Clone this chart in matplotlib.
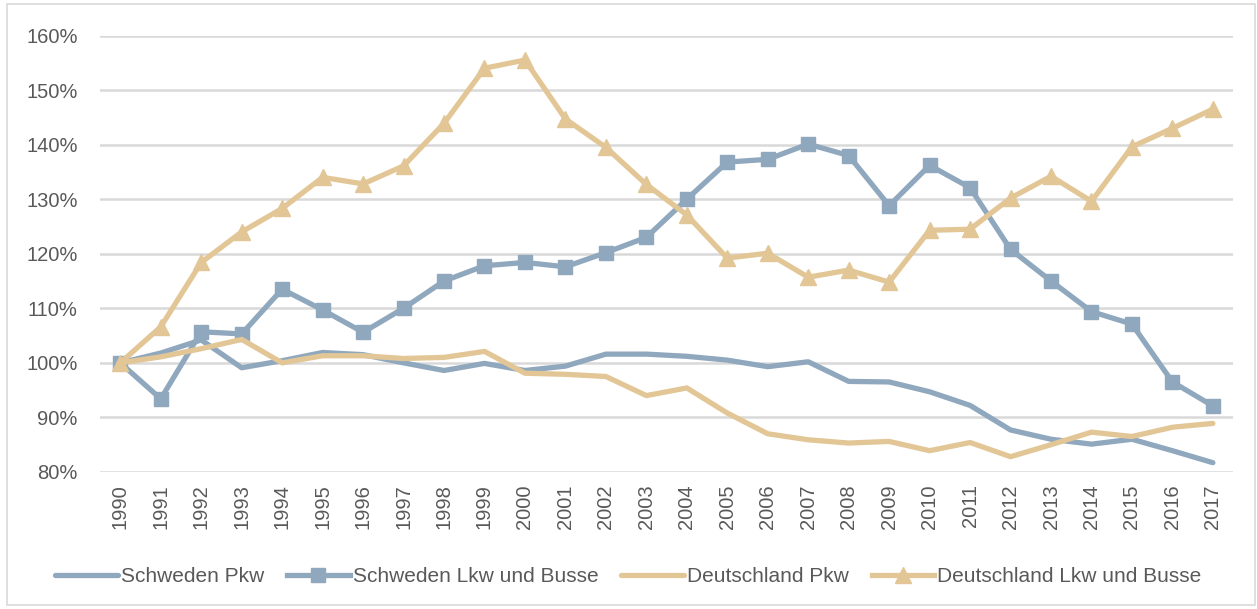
import matplotlib
matplotlib.use("Agg")
import matplotlib.pyplot as plt
from matplotlib.patches import Rectangle
from matplotlib.ticker import FuncFormatter

matplotlib.rcParams["font.family"] = ["Liberation Sans", "DejaVu Sans"]

years = [str(y) for y in range(1990, 2018)]

schweden_pkw = [100, 101.8, 104.2, 99.1, 100.4, 101.9, 101.5, 100.0, 98.6, 99.9,
                98.6, 99.4, 101.6, 101.6, 101.2, 100.5, 99.3, 100.2, 96.6, 96.5,
                94.7, 92.2, 87.7, 86.0, 85.1, 86.0, 83.9, 81.7]
schweden_lkw = [100, 93.4, 105.7, 105.3, 113.5, 109.7, 105.6, 110.0, 115.0, 117.8,
                118.4, 117.6, 120.2, 123.0, 130.0, 136.8, 137.3, 140.1, 138.0, 128.8,
                136.2, 132.1, 120.8, 115.0, 109.4, 107.1, 96.5, 92.1]
deutschland_pkw = [100, 101.1, 102.6, 104.3, 100.0, 101.3, 101.3, 100.8, 101.0, 102.1,
                   98.1, 97.9, 97.5, 94.0, 95.4, 90.8, 87.0, 85.9, 85.3, 85.6,
                   83.9, 85.4, 82.8, 85.0, 87.3, 86.5, 88.2, 88.9]
deutschland_lkw = [100, 106.6, 118.4, 124.0, 128.3, 134.0, 132.8, 136.1, 143.9, 154.0,
                   155.5, 144.7, 139.5, 132.7, 127.1, 119.2, 120.1, 115.7, 117.0, 114.8,
                   124.3, 124.5, 130.2, 134.2, 129.6, 139.6, 143.0, 146.5]

blue = "#90A8BE"
tan = "#E2C696"
grey_text = "#595959"

fig = plt.figure(figsize=(12.57, 6.09), dpi=100)
ax = fig.add_axes([0.0796, 0.225, 0.9014, 0.7167])

x = range(len(years))
ax.plot(x, schweden_pkw, color=blue, lw=3.8, label="Schweden Pkw", solid_capstyle="round")
ax.plot(x, schweden_lkw, color=blue, lw=3.8, marker="s", ms=10, label="Schweden Lkw und Busse")
ax.plot(x, deutschland_pkw, color=tan, lw=3.8, label="Deutschland Pkw", solid_capstyle="round")
ax.plot(x, deutschland_lkw, color=tan, lw=3.8, marker="^", ms=11, label="Deutschland Lkw und Busse")

ax.set_xlim(-0.5, len(years) - 0.5)
ax.set_ylim(80, 160)
ax.set_yticks(range(80, 161, 10))
ax.yaxis.set_major_formatter(FuncFormatter(lambda v, p: f"{v:.0f}%"))
ax.set_xticks(list(x))
ax.set_xticklabels(years, rotation=90)
ax.tick_params(axis="both", length=0, labelsize=14.5, colors=grey_text)
ax.tick_params(axis="y", pad=16)
ax.tick_params(axis="x", pad=9)
ax.grid(axis="y", color="#D9D9D9", lw=1.8)
ax.set_axisbelow(True)
for s in ax.spines.values():
    s.set_visible(False)

fig.legend(loc="center", bbox_to_anchor=(0.5, 0.053), ncol=4, frameon=False,
           fontsize=15, handlelength=3.0, handletextpad=0.15, columnspacing=1.1,
           labelcolor=grey_text)

fig.patches.append(Rectangle((7 / 1257, 4 / 609), 1248 / 1257, 601 / 609,
                             transform=fig.transFigure, fill=False,
                             edgecolor="#D9D9D9", lw=1.2))

fig.savefig("out.png", dpi=100)
